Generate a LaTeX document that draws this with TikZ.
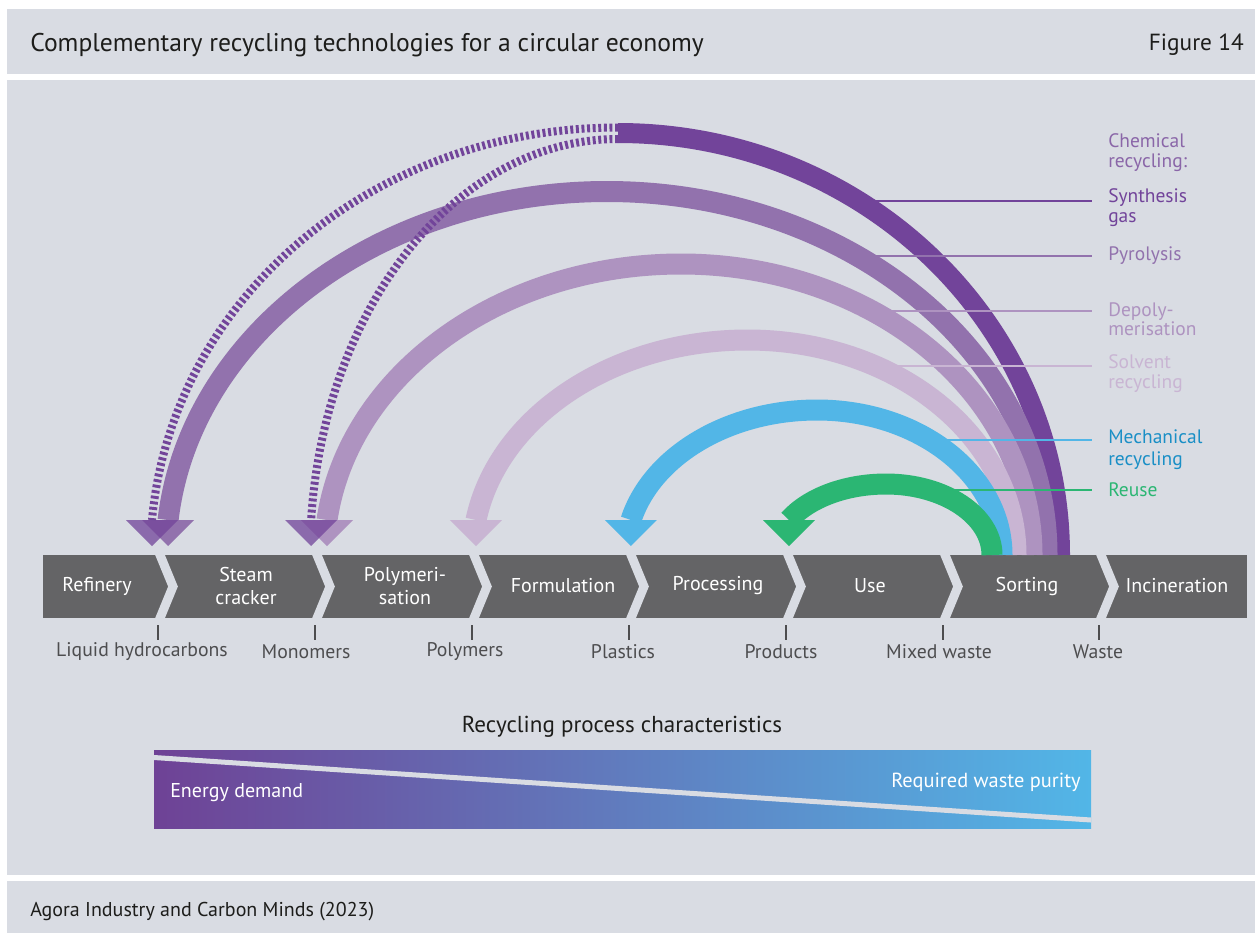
\documentclass[tikz,border=0pt]{standalone}
\usepackage{fontspec}
\setmainfont{PT Sans}
\usepackage{tikz}
\usetikzlibrary{calc}
\definecolor{panel}{HTML}{D9DCE3}
\definecolor{stage}{HTML}{646466}
\definecolor{synth}{HTML}{72449A}
\definecolor{pyro}{HTML}{9272AD}
\definecolor{depoly}{HTML}{AE93C0}
\definecolor{solvent}{HTML}{C9B5D3}
\definecolor{mech}{HTML}{52B6E7}
\definecolor{mechtext}{HTML}{1A8FC6}
\definecolor{reuse}{HTML}{2BB673}
\definecolor{chem}{HTML}{8A66A8}
\definecolor{ink}{HTML}{1D1D1B}
\definecolor{grey}{HTML}{4D4D4F}

\begin{document}
\begin{tikzpicture}[x=0.75pt,y=-0.75pt,
    stagetext/.style={text=white,font=\fontsize{15}{17}\selectfont,align=center,inner sep=0pt},
    flowtext/.style={text=grey,font=\fontsize{14.8}{16}\selectfont,inner sep=0pt},
    sidetext/.style={font=\fontsize{14.6}{14.5}\selectfont,align=left,anchor=west,inner sep=0pt},
    band/.style={line width=15.75pt},
    gasline/.style={line width=6pt,dash pattern=on 2.2pt off 2pt},
    leader/.style={line width=1.1pt}]
    \useasboundingbox (0,0) rectangle (1255,933);
    \fill[white] (0,0) rectangle (1255,933);
    \fill[panel] (7,9) rectangle (1255,74);
    \fill[panel] (7,80) rectangle (1255,875);
    \fill[panel] (7,881) rectangle (1255,933);

    \node[anchor=west,text=ink,font=\fontsize{19.2}{20}\selectfont,inner sep=0pt] (title) at (30,45) {Complementary recycling technologies for a circular economy};
    \node[anchor=east,text=ink,font=\fontsize{17.5}{20}\selectfont,inner sep=0pt] (fignum) at (1244,45) {Figure 14};
    \node[anchor=west,text=ink,font=\fontsize{15}{17}\selectfont,inner sep=0pt] (source) at (30,912) {Agora Industry and Carbon Minds (2023)};

    \fill[stage] (43,555) rectangle (1247,618);
    \foreach \b in {158,315,472,629,786,943,1099}{
        \draw[panel,line width=6.75pt,miter limit=10] (\b,550) -- (\b+15,586.5) -- (\b,623);
        \draw[grey,line width=1.1pt] (\b,625) -- (\b,640);
    }
    \node[stagetext] (refinery) at (97,586) {Refinery};
    \node[stagetext] (steam) at (246,586) {Steam\\cracker};
    \node[stagetext] (polym) at (405,586) {Polymeri-\\sation};
    \node[stagetext] (formul) at (563,586) {Formulation};
    \node[stagetext] (process) at (718,586) {Processing};
    \node[stagetext] (use) at (870,586) {Use};
    \node[stagetext] (sorting) at (1027,586) {Sorting};
    \node[stagetext] (inciner) at (1177,586) {Incineration};

    \node[flowtext] (liquid) at (142,652) {Liquid hydrocarbons};
    \node[flowtext] (monomers) at (306,652) {Monomers};
    \node[flowtext] (polymers) at (465,652) {Polymers};
    \node[flowtext] (plastics) at (623,652) {Plastics};
    \node[flowtext] (products) at (781,652) {Products};
    \node[flowtext] (mixed) at (939,652) {Mixed waste};
    \node[flowtext] (waste) at (1098,652) {Waste};

    \draw[synth,line width=15pt] (1060,555) arc[start angle=0,end angle=-90,x radius=442,y radius=422] coordinate (gastop);
    \foreach \col/\cx/\rx/\lx/\ry/\name in {pyro/607/440/441/363.5/pyroend,depoly/681/351/356.6/291/depolyend,solvent/747.5/268.5/275.2/215/solventend,mech/817/185/191.7/145/mechend,reuse/886/106/111.5/71/reuseend}{
        \draw[\col,band] (\cx+\rx,555) arc[start angle=0,end angle=-90,x radius=\rx,y radius=\ry]
            arc[start angle=-90,end angle={-180+asin(35/\ry)},x radius=\lx,y radius=\ry] coordinate (\name);
        \fill[\col] ($(\name)+(-26,0)$) -- ($(\name)+(26,0)$) -- ($(\name)+(0,26)$) -- cycle;
    }
    \draw[synth,gasline] (618,127.5) arc[start angle=-90,end angle={-180+asin(35/427.5)},x radius=467.6,y radius=427.5] coordinate (gasouter);
    \draw[synth,gasline] (618,139) arc[start angle=-90,end angle={-180+asin(35/416)},x radius=308,y radius=416] coordinate (gasinner);
    \fill[synth,fill opacity=0.75] ($(gasouter)+(-26,0)$) -- ($(gasouter)+(26,0)$) -- ($(gasouter)+(0,26)$) -- cycle;
    \fill[synth,fill opacity=0.75] ($(gasinner)+(-26,0)$) -- ($(gasinner)+(26,0)$) -- ($(gasinner)+(0,26)$) -- cycle;

    \node[sidetext,text=chem] (chemical) at (1108,152.5) {Chemical\\recycling:};
    \node[sidetext,text=synth] (gaslabel) at (1108,207.5) {Synthesis\\gas};
    \node[sidetext,text=pyro] (pyrolabel) at (1108,256) {Pyrolysis};
    \node[sidetext,text=depoly] (depolylabel) at (1108,319) {Depoly-\\merisation};
    \node[sidetext,text=solvent] (solventlabel) at (1108,373.5) {Solvent\\recycling};
    \node[sidetext,text=mechtext,font=\fontsize{14.6}{16.5}\selectfont] (mechlabel) at (1108,450) {Mechanical\\recycling};
    \node[sidetext,text=reuse] (reuselabel) at (1108,490) {Reuse};
    \draw[synth,leader] (858,201) -- (1092,201);
    \draw[pyro,leader] (857,256) -- (1092,256);
    \draw[depoly,leader] (872,311) -- (1092,311);
    \draw[solvent,leader] (875,366) -- (1092,366);
    \draw[mech,leader] (930,440) -- (1092,440);
    \draw[reuse,leader] (929,490) -- (1092,490);

    \node[text=ink,font=\fontsize{17.3}{19}\selectfont,inner sep=0pt] (charact) at (622,727) {Recycling process characteristics};
    \shade[left color=synth!97!black,right color=mech] (154,750) rectangle (1091,828);
    \draw[panel,line width=3.75pt] (154,757.5) -- (1091,820);
    \node[anchor=west,text=white,font=\fontsize{15}{17}\selectfont,inner sep=0pt] (energy) at (170,793) {Energy demand};
    \node[anchor=east,text=white,font=\fontsize{15.3}{17}\selectfont,inner sep=0pt] (purity) at (1081,782) {Required waste purity};
\end{tikzpicture}
\end{document}
